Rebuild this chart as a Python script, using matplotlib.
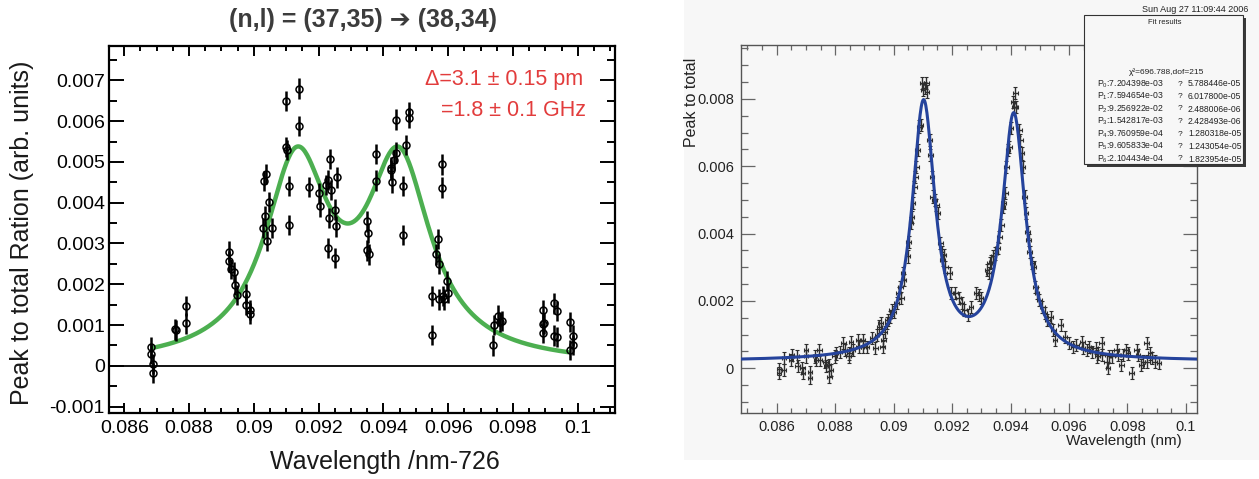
import numpy as np
import matplotlib
matplotlib.use('Agg')
import matplotlib.pyplot as plt
from matplotlib.ticker import MultipleLocator, FuncFormatter
from matplotlib.patches import Rectangle

plt.rcParams['font.family'] = ['Liberation Sans', 'DejaVu Sans']
plt.rcParams['mathtext.default'] = 'regular'

# ---- left panel: measured points (x in nm-726, peak/total) ----
left_x = [0.086812, 0.086812, 0.086875, 0.086875,
          0.087582, 0.08759, 0.0879, 0.0879,
          0.08922, 0.08922, 0.0893, 0.08938, 0.08943, 0.08948,
          0.08977, 0.08977, 0.08987, 0.08989,
          0.09028, 0.0904, 0.09055, 0.0911, 0.0923, 0.09252, 0.09255,
          0.0910, 0.0914, 0.0914, 0.0910, 0.09102, 0.0911, 0.0917,
          0.0903, 0.09038, 0.09047, 0.09036,
          0.09201, 0.09205, 0.09223, 0.09228, 0.09235, 0.09237, 0.09231, 0.09251, 0.09257,
          0.09351, 0.09377, 0.09377, 0.09423, 0.09425, 0.09428, 0.09438, 0.09438, 0.09432,
          0.0946, 0.09469, 0.09479, 0.09479, 0.09581, 0.09581,
          0.0946, 0.09353, 0.09348, 0.09356,
          0.09568, 0.09564, 0.09571, 0.09549, 0.09549, 0.09571, 0.09584, 0.09586, 0.09597, 0.0960,
          0.09738, 0.09743, 0.09754, 0.09759, 0.09766,
          0.09892, 0.09892, 0.09896, 0.09892, 0.09927, 0.09935, 0.09927, 0.09935,
          0.09975, 0.09984, 0.09984, 0.09975]
left_y = [0.000456, 0.000285, 0.00005, -0.00017,
          0.000895, 0.00087, 0.00147, 0.00104,
          0.0028, 0.00256, 0.00238, 0.0023, 0.00198, 0.00173,
          0.00176, 0.0015, 0.00137, 0.00128,
          0.00338, 0.00306, 0.00338, 0.00346, 0.00289, 0.00264, 0.00342,
          0.0065, 0.0068, 0.00588, 0.00537, 0.00529, 0.00441, 0.00439,
          0.00453, 0.00471, 0.00402, 0.00368,
          0.00423, 0.00391, 0.00444, 0.00455, 0.00507, 0.00431, 0.00362, 0.00383, 0.00462,
          0.00354, 0.00519, 0.00454, 0.00486, 0.0048, 0.0045, 0.00604, 0.00523, 0.00504,
          0.00441, 0.00541, 0.00623, 0.00607, 0.00494, 0.00437,
          0.00321, 0.00326, 0.00283, 0.00273,
          0.00311, 0.00273, 0.0025, 0.00171, 0.00076, 0.00163, 0.00171, 0.00163, 0.00208, 0.00179,
          0.0005, 0.001, 0.00123, 0.00108, 0.0011,
          0.00137, 0.00102, 0.00104, 0.00081, 0.00153, 0.00134, 0.00074, 0.0007,
          0.00107, 0.00074, 0.00051, 0.00039]
left_err = 0.00025

# fit: two lorentzians
left_centers = [0.09132, 0.09448]
left_amp = 0.00477
left_hwhm = 0.0012
left_fit_range = [0.0869, 0.0997]

# ---- right panel: ROOT plot points ----
right_x = [0.08608, 0.08608, 0.08625, 0.08625, 0.08649, 0.08651, 0.08668, 0.08672, 0.08688, 0.0869,
           0.0870, 0.0870, 0.08714, 0.08714, 0.08731, 0.08735, 0.08746, 0.08748, 0.08766, 0.08769,
           0.08779, 0.0878, 0.08786, 0.08798, 0.08803, 0.08815, 0.08828, 0.08834, 0.08846, 0.08849,
           0.08854, 0.0886, 0.08878, 0.0888, 0.08895, 0.08897, 0.08908, 0.08926, 0.08937, 0.08943,
           0.08951, 0.08956, 0.08963, 0.08965, 0.08969, 0.08977, 0.0898, 0.08988, 0.08994, 0.0900,
           0.09011, 0.09017, 0.09023, 0.09026, 0.09032, 0.09036, 0.09048, 0.09052,
           0.090593, 0.090627, 0.090661, 0.090707, 0.090741, 0.090776, 0.090821, 0.090878, 0.090936,
           0.09097, 0.091004, 0.091061, 0.091118, 0.091141,
           0.091233, 0.091255, 0.091313, 0.091335, 0.091404, 0.091461, 0.091507, 0.091598, 0.091656,
           0.091712, 0.091678, 0.09177, 0.091918, 0.091975, 0.092112, 0.092227, 0.092341, 0.092421,
           0.092535, 0.09265, 0.092821, 0.092912, 0.092992, 0.093198, 0.093255, 0.093289, 0.093347,
           0.093404, 0.093484, 0.093564, 0.093621, 0.09369, 0.093747, 0.093769, 0.093827, 0.093861,
           0.093918, 0.093964, 0.094021, 0.09409, 0.094135, 0.094169, 0.094192,
           0.094307, 0.094341, 0.094398, 0.094432, 0.094489, 0.094535, 0.094592, 0.094626, 0.094661,
           0.094741, 0.094798, 0.094855, 0.094912, 0.094992, 0.095084, 0.095175, 0.095255, 0.095369,
           0.095461, 0.095518, 0.095712, 0.09586, 0.095998, 0.096146, 0.09625,
           0.096455, 0.096478, 0.096626, 0.096683, 0.096798, 0.096912, 0.096969, 0.097003, 0.097118,
           0.097141, 0.097289, 0.097335, 0.097369, 0.097483, 0.097632, 0.097677, 0.097792, 0.09786,
           0.097963, 0.09802, 0.098146, 0.098318, 0.098363, 0.098478, 0.098534, 0.09866, 0.098683,
           0.098775, 0.098855, 0.098935, 0.099083]
right_y = [-0.00003, -0.00015, 0.0003, -0.00005, 0.00025, 0.0004, 0.00035, 0.00007, 0.0, -0.00013,
           0.00054, 0.00035, -0.0001, -0.0003, 0.00035, 0.00025, 0.00054, 0.00025, 0.0002, 0.00007,
           0.0001, -0.00025, -0.00005, 0.00035, 0.00044, 0.00049, 0.00074, 0.00054, 0.00035, 0.00044,
           0.00079, 0.00054, 0.00084, 0.00064, 0.00084, 0.00064, 0.00064, 0.00089, 0.00059, 0.00099,
           0.00124, 0.00134, 0.00064, 0.00084, 0.00109, 0.00134, 0.00143, 0.00153, 0.00173, 0.00168,
           0.00193, 0.00223, 0.00242, 0.00208, 0.00282, 0.00262, 0.00332, 0.00376,
           0.00431, 0.0045, 0.0049, 0.00539, 0.00569, 0.00599, 0.00648, 0.00718, 0.00723,
           0.00846, 0.00827, 0.00832, 0.00846, 0.00822,
           0.00678, 0.00634, 0.00569, 0.0051, 0.005, 0.00485, 0.0046, 0.00371, 0.00346,
           0.00337, 0.00322, 0.00302, 0.00282, 0.00223, 0.00223, 0.00208, 0.00193, 0.00173,
           0.00158, 0.00183, 0.00223, 0.00218, 0.00208, 0.00292, 0.00282, 0.00312, 0.00317,
           0.00332, 0.00341, 0.00356, 0.00391, 0.00426, 0.0048, 0.0049, 0.0052, 0.00599,
           0.00648, 0.00658, 0.00713, 0.00792, 0.00777, 0.00817, 0.00777,
           0.00708, 0.00678, 0.00638, 0.00599, 0.0051, 0.0046, 0.00406, 0.00381, 0.00346,
           0.00312, 0.00302, 0.00242, 0.00223, 0.00203, 0.00183, 0.00163, 0.00143, 0.00153,
           0.00114, 0.00084, 0.00129, 0.00094, 0.00074, 0.00064, 0.00069,
           0.00079, 0.00059, 0.00054, 0.00064, 0.00049, 0.00059, 0.00035, 0.00044, 0.00074,
           0.0004, 0.0002, 0.0, 0.00035, 0.00035, 0.00054, 0.0004, 0.0001, 0.0004,
           0.00054, 0.00044, -0.00015, 0.00054, 0.0004, 0.0001, 0.0002, 0.00074, 0.0002,
           0.00044, 0.0003, 0.0002, 0.00015]
right_xerr = 0.00008
right_yerr = 0.00018

# fit results printed in the stats box
fit_vals = [7.204398e-03, 7.594654e-03, 9.256922e-02, 1.542817e-03,
            9.760959e-04, 9.605833e-04, 2.104434e-04]
fit_errs = [5.788446e-05, 6.017800e-05, 2.488006e-06, 2.428493e-06,
            1.280318e-05, 1.243054e-05, 1.823954e-05]


def lorentz(x, amp, x0, hwhm):
    return amp / (1.0 + ((x - x0) / hwhm) ** 2)


def fmt_g(v, pos):
    return '%g' % round(v, 6)


W, H = 1259, 479
fig = plt.figure(figsize=(W / 100, H / 100), dpi=100)


def fx(px):
    return px / W


def fy(py):
    return 1 - py / H


# light grey background of the screenshot on the right
fig.add_artist(Rectangle((fx(684), fy(460)), 1 - fx(684), 1 - fy(460), transform=fig.transFigure,
                         facecolor='#f7f7f7', edgecolor='none', zorder=-5))

# ================= left panel =================
ax1 = fig.add_axes([fx(109), fy(412.7), fx(615.3) - fx(109), fy(45.7) - fy(412.7)])
ax1.axhline(0, color='black', lw=1.3, zorder=1)
xx = np.linspace(left_fit_range[0], left_fit_range[1], 400)
yy = lorentz(xx, left_amp, left_centers[0], left_hwhm) + lorentz(xx, left_amp, left_centers[1], left_hwhm)
ax1.plot(xx, yy, color='#4caf50', lw=3.2, zorder=2, solid_capstyle='round')
ax1.errorbar(left_x, left_y, yerr=left_err, fmt='o', mfc='none', mec='black', ms=5, mew=1.1,
             ecolor='black', elinewidth=1.8, capsize=0, zorder=3)
ax1.set_xlim(0.08553, 0.10116)
ax1.set_ylim(-0.00115, 0.00785)
ax1.xaxis.set_major_locator(MultipleLocator(0.002))
ax1.xaxis.set_minor_locator(MultipleLocator(0.0005))
ax1.yaxis.set_major_locator(MultipleLocator(0.001))
ax1.yaxis.set_minor_locator(MultipleLocator(0.0005))
ax1.xaxis.set_major_formatter(FuncFormatter(fmt_g))
ax1.yaxis.set_major_formatter(FuncFormatter(fmt_g))
ax1.tick_params(which='both', direction='in', top=True, right=True, width=1.4, colors='black')
ax1.xaxis.set_tick_params(which='major', length=7.2, pad=5, labelsize=14)
ax1.xaxis.set_tick_params(which='minor', length=3.8)
ax1.yaxis.set_tick_params(which='major', length=10.8, pad=3, labelsize=14)
ax1.yaxis.set_tick_params(which='minor', length=5.5)
for s in ax1.spines.values():
    s.set_linewidth(1.6)

fig.text(fx(362.7), fy(20), '(n,l) = (37,35) \u2794 (38,34)', ha='center', va='center',
         fontsize=18, fontweight='bold', color='#3c3c3c')
fig.text(fx(22.5), fy(233), 'Peak to total Ration (arb. units)', rotation=90,
         ha='center', va='center', fontsize=18, color='#1a1a1a')
fig.text(fx(385), fy(461.7), 'Wavelength /nm-726', ha='center', va='center',
         fontsize=18, color='#1a1a1a')
fig.text(fx(583.3), fy(80), '\u0394=3.1 \u00b1 0.15 pm', ha='right', va='center',
         fontsize=15.5, color='#e23c3c')
fig.text(fx(585.7), fy(110), '=1.8 \u00b1 0.1 GHz', ha='right', va='center',
         fontsize=15.5, color='#e23c3c')

# ================= right panel =================
ax2 = fig.add_axes([fx(741), fy(413.3), fx(1196.7) - fx(741), fy(44.7) - fy(413.3)],
                   facecolor='#f7f7f7')
ax2.set_xlim(0.08478, 0.10037)
ax2.set_ylim(-0.001337, 0.00961)
xr = np.linspace(0.08478, 0.10037, 800)
yr = (lorentz(xr, fit_vals[1], fit_vals[2] - fit_vals[3], fit_vals[5] / 2)
      + lorentz(xr, fit_vals[0], fit_vals[2] + fit_vals[3], fit_vals[4] / 2)
      + fit_vals[6])
ax2.errorbar(right_x, right_y, xerr=right_xerr, yerr=right_yerr, fmt='none',
             ecolor='#2e2e2e', elinewidth=1.0, capsize=1.2, capthick=0.8, zorder=2)
ax2.plot(xr, yr, color='#25439c', lw=2.2, zorder=3)
ax2.xaxis.set_major_locator(MultipleLocator(0.002))
ax2.xaxis.set_minor_locator(MultipleLocator(0.0005))
ax2.yaxis.set_major_locator(MultipleLocator(0.002))
ax2.yaxis.set_minor_locator(MultipleLocator(0.0005))
ax2.xaxis.set_major_formatter(FuncFormatter(fmt_g))
ax2.yaxis.set_major_formatter(FuncFormatter(fmt_g))
ax2.tick_params(which='both', direction='in', top=True, right=True, width=0.9,
                color='#666666', labelcolor='#222222', labelsize=10.5)
ax2.xaxis.set_tick_params(which='major', length=7.2, pad=5)
ax2.xaxis.set_tick_params(which='minor', length=3.6)
ax2.yaxis.set_tick_params(which='major', length=10, pad=5)
ax2.yaxis.set_tick_params(which='minor', length=5)
for s in ax2.spines.values():
    s.set_linewidth(1.0)
    s.set_color('#555555')

fig.text(fx(692), fy(58), 'Peak to total', rotation=90, ha='center', va='top',
         fontsize=11.5, color='#222222')
fig.text(fx(1182), fy(441), 'Wavelength (nm)', ha='right', va='center',
         fontsize=11, color='#222222')
fig.text(fx(1248), fy(9.3), 'Sun Aug 27 11:09:44 2006', ha='right', va='center',
         fontsize=6.5, color='#222222')

# stats box with shadow
bx0, bx1, by0, by1 = 1084, 1243, 15, 164
fig.add_artist(Rectangle((fx(bx0 + 2.5), fy(by1 + 2.5)), fx(bx1) - fx(bx0), fy(by0) - fy(by1),
                         transform=fig.transFigure, facecolor='#3a3a3a', edgecolor='none', zorder=4))
fig.add_artist(Rectangle((fx(bx0), fy(by1)), fx(bx1) - fx(bx0), fy(by0) - fy(by1),
                         transform=fig.transFigure, facecolor='#f7f7f7', edgecolor='#333333',
                         lw=0.8, zorder=5))
fig.text(fx(1165), fy(23), 'Fit results', ha='center', va='center', fontsize=5.5,
         color='#222222', zorder=6)
fig.text(fx(1167), fy(72), '\u03c7\u00b2=696.788,dof=215', ha='center', va='center',
         fontsize=6, color='#222222', zorder=6)
for i in range(len(fit_vals)):
    ry = fy(84 + i * 12.5)
    fig.text(fx(1097), ry, 'P$_%d$:%.6e' % (i, fit_vals[i]), ha='left', va='center',
             fontsize=6.2, color='#222222', zorder=6)
    fig.text(fx(1180), ry, '?', ha='center', va='center', fontsize=6,
             color='#222222', zorder=6)
    fig.text(fx(1188), ry, '%.6e' % fit_errs[i], ha='left', va='center',
             fontsize=6.2, color='#222222', zorder=6)

fig.savefig('out.png', dpi=100)
